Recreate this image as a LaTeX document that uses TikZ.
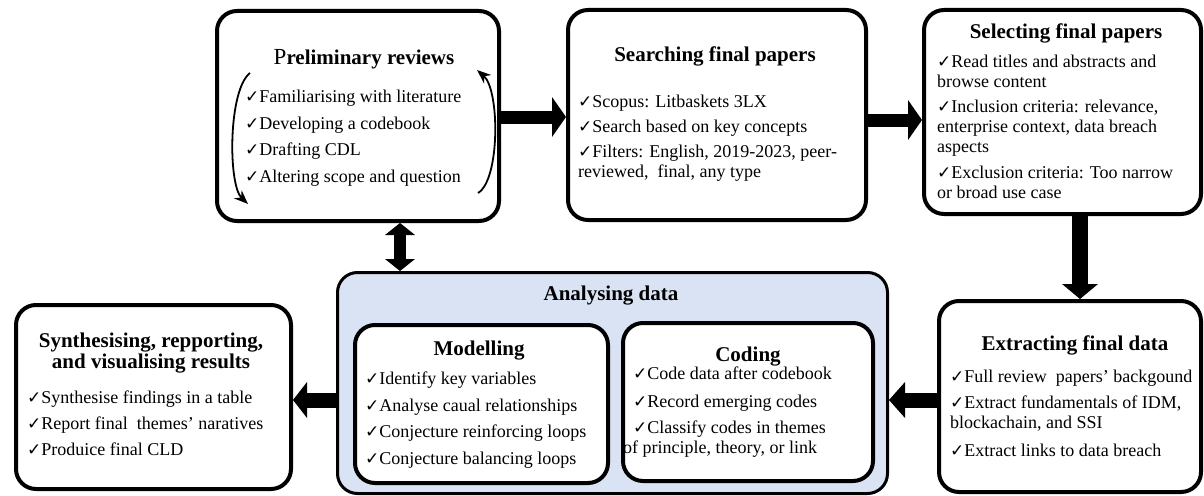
\documentclass[tikz,border=0pt]{standalone}
\usepackage{fontspec}
\setmainfont{Liberation Serif}
\newfontfamily\tickfont{DejaVu Sans}
\usepackage{tikz}
\usetikzlibrary{arrows.meta}
\definecolor{anafill}{HTML}{DAE3F3}
\newcommand{\chk}{{\tickfont\fontsize{17}{17}\selectfont ✓}}
\tikzstyle{stage} = [draw, line width=4pt, rounded corners=20pt, fill=white, anchor=north west, inner sep=0pt]
\tikzstyle{stagetitle} = [font=\fontsize{21}{21}\selectfont\bfseries, inner sep=0pt, anchor=base, align=center]
\tikzstyle{stagelist} = [font=\fontsize{18}{20}\selectfont, inner sep=0pt, anchor=north west, align=left]
\tikzstyle{bigarrow} = [line width=13pt, -{Triangle[length=14pt,width=40pt,line width=0pt]}]
\tikzstyle{looparrow} = [line width=1.8pt, -{Stealth[length=14pt,width=11pt]}]

\begin{document}
\begin{tikzpicture}[x=1pt, y=-1pt]
\useasboundingbox (0,0) rectangle (1204,495);

% top row
\node[stage, minimum width=282, minimum height=210] (prelim) at (215,9) {};
\node[stage, minimum width=298, minimum height=210] (search) at (566,8) {};
\node[stage, minimum width=277, minimum height=204] (select) at (922,8) {};

% bottom row
\node[stage, minimum width=275, minimum height=184] (synth) at (14,303) {};
\node[stage, line width=3pt, fill=anafill, minimum width=550, minimum height=221] (analyse) at (336,271) {};
\node[stage, minimum width=253, minimum height=158] (model) at (353,323) {};
\node[stage, minimum width=250, minimum height=158] (code) at (621,321) {};
\node[stage, minimum width=262, minimum height=191] (extract) at (937,299) {};

% texts
\node[stagetitle] (prelimT) at (364,65) {{\fontsize{23}{23}\selectfont\mdseries P}reliminary reviews};
\node[stagelist] (prelimL) at (245,90) {\chk Familiarising with literature\\[6.5pt]
  \chk Developing a codebook\\[6.5pt]
  \chk Drafting CDL\\[6.5pt]
  \chk Altering scope and question};

\node[stagetitle] (searchT) at (715,62) {Searching final papers};
\node[stagelist] (searchL) at (578,95) {\chk Scopus: Litbaskets 3LX\\[5pt]
  \chk Search based on key concepts\\[5pt]
  \chk Filters: English, 2019-2023, peer-\\
  reviewed,\ \ final, any type};

\node[stagetitle] (selectT) at (1066,38) {Selecting final papers};
\node[stagelist] (selectL) at (937,55) {\chk Read titles and abstracts and\\
  browse content\\[5pt]
  \chk Inclusion criteria: relevance,\\
  enterprise context, data breach\\
  aspects\\[6pt]
  \chk Exclusion criteria: Too narrow\\
  or broad use case};

\node[stagetitle] (extractT) at (1075,350) {Extracting final data};
\node[stagelist] (extractL) at (950,370) {\chk Full review\ \ papers' backgound\\[6pt]
  \chk Extract fundamentals\ of IDM,\\
  blockachain, and SSI\\[8pt]
  \chk Extract links to data breach};

\node[stagetitle] (analyseT) at (611,300) {Analysing data};

\node[stagetitle] (modelT) at (479,355) {Modelling};
\node[stagelist] (modelL) at (365,372) {\chk Identify key variables\\[7pt]
  \chk Analyse caual relationships\\[6pt]
  \chk Conjecture reinforcing loops\\[7pt]
  \chk Conjecture balancing loops};

\node[stagetitle] (codeT) at (748,361) {Coding};
\node[stagelist] (codeL) at (633,367) {\chk Code data after codebook\\[8pt]
  \chk Record emerging codes\\[6pt]
  \chk Classify codes in themes\\
  \hspace*{-10pt}of principle, theory, or link};

\node[stagetitle, anchor=north] (synthT) at (151,333) {Synthesising, repporting,\\and visualising results};
\node[stagelist] (synthL) at (27,391) {\chk Synthesise findings in a table\\[6pt]
  \chk Report final\ \ themes' naratives\\[6pt]
  \chk Produice final CLD};

% review loop
\draw[looparrow] (250,73) .. controls (228,90) and (228,185) .. (248,204);
\draw[looparrow] (478,193) .. controls (500,180) and (500,90) .. (477,70);

% flow
\draw[bigarrow] (prelim.east |- 0,117) -- (search.west |- 0,117);
\draw[bigarrow] (search.east |- 0,120) -- (select.west |- 0,120);
\draw[bigarrow, line width=16pt, -{Triangle[length=15pt,width=36pt,line width=0pt]}] (select.south -| 1080,0) -- (extract.north -| 1080,0);
\draw[bigarrow, line width=15pt, -{Triangle[length=16pt,width=36pt,line width=0pt]}] (extract.west |- 0,400) -- (analyse.east |- 0,400);
\draw[bigarrow, line width=15pt, -{Triangle[length=14pt,width=36pt,line width=0pt]}] (analyse.west |- 0,400) -- (synth.east |- 0,400);
\draw[bigarrow, line width=12pt, {Triangle[length=12pt,width=30pt,line width=0pt]}-{Triangle[length=12pt,width=30pt,line width=0pt]}] (prelim.south -| 400,0) -- (analyse.north -| 400,0);
\end{tikzpicture}
\end{document}
